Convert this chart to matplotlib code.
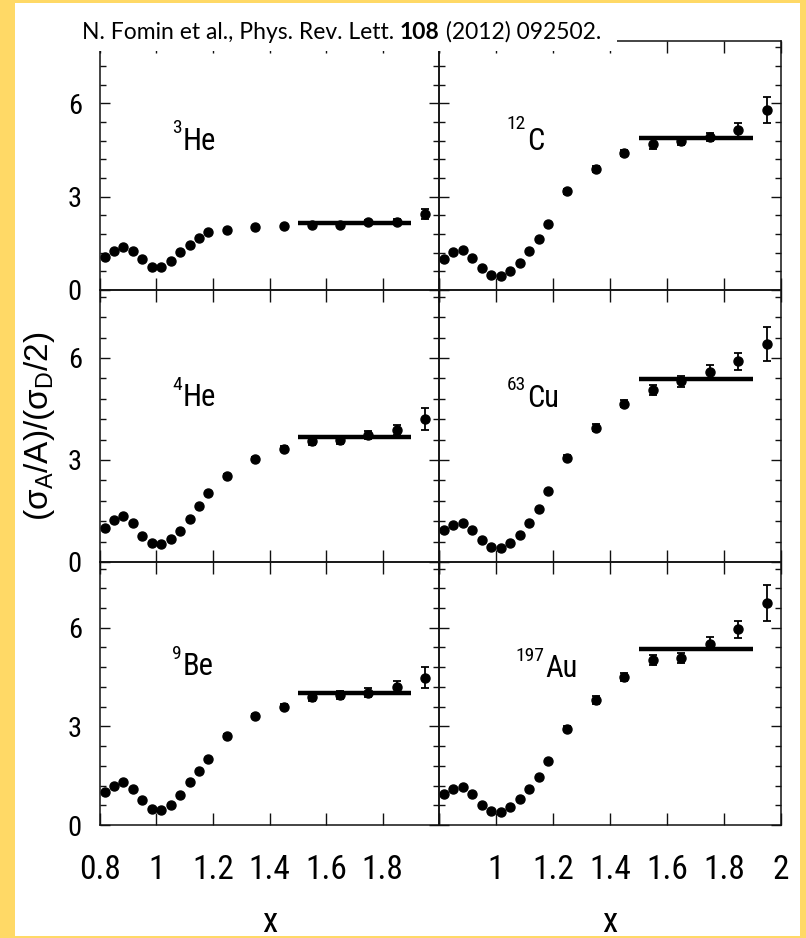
import matplotlib
matplotlib.use("Agg")
import matplotlib.pyplot as plt
from matplotlib.patches import Rectangle
from matplotlib.ticker import FixedLocator, FixedFormatter, NullFormatter
import matplotlib.font_manager as fm

# ---------------- data ----------------
x_vals = [0.817, 0.85, 0.883, 0.917, 0.95, 0.983, 1.017, 1.05, 1.083, 1.117,
          1.15, 1.183, 1.25, 1.35, 1.45, 1.55, 1.65, 1.75, 1.85, 1.95]

he3 = [1.05, 1.26, 1.37, 1.26, 0.99, 0.75, 0.75, 0.94, 1.22, 1.45,
       1.68, 1.85, 1.93, 2.02, 2.06, 2.09, 2.09, 2.18, 2.20, 2.44]
he3_err = [0.02]*12 + [0.03, 0.03, 0.04, 0.05, 0.05, 0.06, 0.08, 0.15]

he4 = [1.01, 1.24, 1.34, 1.14, 0.77, 0.55, 0.53, 0.67, 0.92, 1.26,
       1.65, 2.03, 2.54, 3.03, 3.33, 3.55, 3.58, 3.73, 3.89, 4.21]
he4_err = [0.02]*12 + [0.05, 0.06, 0.07, 0.10, 0.10, 0.12, 0.15, 0.32]

be9 = [1.00, 1.20, 1.30, 1.10, 0.75, 0.50, 0.45, 0.60, 0.90, 1.30,
       1.65, 2.00, 2.72, 3.33, 3.60, 3.88, 3.95, 4.02, 4.20, 4.48]
be9_err = [0.02]*12 + [0.05, 0.06, 0.07, 0.10, 0.12, 0.14, 0.18, 0.32]

c12 = [1.01, 1.21, 1.29, 1.03, 0.70, 0.48, 0.45, 0.62, 0.86, 1.24,
       1.63, 2.11, 3.18, 3.88, 4.40, 4.69, 4.80, 4.93, 5.14, 5.77]
c12_err = [0.02]*12 + [0.08, 0.10, 0.10, 0.16, 0.13, 0.13, 0.24, 0.42]

cu63 = [0.95, 1.10, 1.15, 0.95, 0.65, 0.45, 0.42, 0.55, 0.80, 1.15,
        1.55, 2.10, 3.07, 3.95, 4.66, 5.07, 5.31, 5.60, 5.90, 6.40]
cu63_err = [0.02]*12 + [0.08, 0.10, 0.10, 0.15, 0.15, 0.18, 0.25, 0.50]

au197 = [0.95, 1.10, 1.15, 0.95, 0.62, 0.42, 0.40, 0.54, 0.80, 1.10,
         1.45, 1.95, 2.93, 3.79, 4.50, 5.02, 5.09, 5.52, 5.95, 6.76]
au197_err = [0.02]*12 + [0.08, 0.12, 0.12, 0.16, 0.15, 0.20, 0.25, 0.55]

plateau_x = [1.5, 1.9]
plateau = {"3He": 2.14, "4He": 3.67, "9Be": 4.03, "12C": 4.88, "63Cu": 5.37, "197Au": 5.35}

nuclei_sup = ["3", "12", "4", "63", "9", "197"]
nuclei_name = ["He", "C", "He", "Cu", "Be", "Au"]
keys = ["3He", "12C", "4He", "63Cu", "9Be", "197Au"]
series = [he3, c12, he4, cu63, be9, au197]
errors = [he3_err, c12_err, he4_err, cu63_err, be9_err, au197_err]
label_x = [1.092, 1.108, 1.092, 1.109, 1.092, 1.172]
label_y = [4.5, 4.5, 4.58, 4.57, 4.55, 4.49]

xticks = [0.8, 1.0, 1.2, 1.4, 1.6, 1.8, 2.0]
xlabels_left = ["0.8", "1", "1.2", "1.4", "1.6", "1.8", ""]
xlabels_right = ["", "1", "1.2", "1.4", "1.6", "1.8", "2"]
yticks_major = [0, 3, 6]
ylabels = ["0", "3", "6"]
yticks_minor = [0.6, 1.2, 1.8, 2.4, 3.6, 4.2, 4.8, 5.4, 6.6, 7.2, 7.8]
citation_a = "N. Fomin et al., Phys. Rev. Lett. "
citation_b = "108"
citation_c = " (2012) 092502."

# ---------------- fonts ----------------
avail = {f.name for f in fm.fontManager.ttflist}
narrow = "Roboto Condensed" if "Roboto Condensed" in avail else "Liberation Sans"
cite_font = "Lato" if "Lato" in avail else "DejaVu Sans"

W, H = 806, 938
fig = plt.figure(figsize=(W / 100, H / 100), dpi=100)
fig.patch.set_facecolor("#FFD966")
fig.add_artist(Rectangle((15 / W, 1 - 936 / H), (800 - 15) / W, (936 - 3) / H,
                         transform=fig.transFigure, facecolor="white",
                         edgecolor="none", zorder=-5))

cols = [(100, 439), (439, 781)]
rows = [(41, 290), (290, 562), (562, 825)]


def frac(x0, x1, y0, y1):
    return [x0 / W, 1 - y1 / H, (x1 - x0) / W, (y1 - y0) / H]


idx = 0
for r, (ry0, ry1) in enumerate(rows):
    for c, (cx0, cx1) in enumerate(cols):
        ax = fig.add_axes(frac(cx0, cx1, ry0, ry1))
        ax.set_facecolor("none")
        y = series[idx]
        e = errors[idx]
        ax.errorbar(x_vals, y, yerr=e, fmt="o", color="black", ms=6.5,
                    elinewidth=1.3, capsize=3.2, capthick=1.3)
        ax.plot(plateau_x, [plateau[keys[idx]]] * 2, color="black", lw=3.2,
                solid_capstyle="butt")
        ax.set_xlim(0.8, 2.0)
        ax.set_ylim(0, 8)
        for sp in ax.spines.values():
            sp.set_linewidth(1.1)
            sp.set_color("#111111")
        ax.xaxis.set_major_locator(FixedLocator(xticks))
        ax.yaxis.set_major_locator(FixedLocator(yticks_major))
        ax.yaxis.set_minor_locator(FixedLocator(yticks_minor))
        ax.tick_params(axis="x", which="major", direction="in", length=8.6,
                       width=1.0, top=True, bottom=True, pad=21,
                       labelsize=24, color="#111111")
        ax.tick_params(axis="y", which="major", direction="in", length=7,
                       width=1.0, left=True, right=True, pad=13,
                       labelsize=20.5, color="#111111")
        ax.tick_params(axis="y", which="minor", direction="in", length=4.3,
                       width=1.0, left=True, right=True, color="#111111")
        if r == 2:
            ax.xaxis.set_major_formatter(FixedFormatter(xlabels_left if c == 0 else xlabels_right))
        else:
            ax.xaxis.set_major_formatter(NullFormatter())
        if c == 0:
            ax.yaxis.set_major_formatter(FixedFormatter(ylabels))
        else:
            ax.yaxis.set_major_formatter(NullFormatter())
        for lab in ax.get_xticklabels() + ax.get_yticklabels():
            lab.set_fontfamily(narrow)
        ax.text(label_x[idx], label_y[idx], nuclei_name[idx], fontsize=22,
                family=narrow, ha="left", va="baseline")
        ax.annotate(nuclei_sup[idx], xy=(label_x[idx], label_y[idx]),
                    xycoords="data", xytext=(-0.5, 12 if idx != 1 else 15),
                    textcoords="offset points", ha="right", va="baseline",
                    fontsize=14, family=narrow)
        idx += 1

for (cx0, cx1) in cols:
    fig.text(((cx0 + cx1) / 2) / W, 1 - 922 / H, "x", fontsize=25,
             family=narrow, ha="center", va="center")

fig.text(40 / W, 1 - 426 / H, r"$\mathregular{(σ_A/A)/(σ_D/2)}$", rotation=90,
         fontsize=24, family="Liberation Sans", ha="center", va="center")

fig.add_artist(Rectangle((60 / W, 1 - 51 / H), (617 - 60) / W, (51 - 3) / H,
                         transform=fig.transFigure, facecolor="white",
                         edgecolor="none", zorder=5))
t1 = fig.text(82 / W, 1 - 39 / H, citation_a, fontsize=16.5, family=cite_font,
              ha="left", va="baseline", zorder=6)
fig.canvas.draw()
r = fig.canvas.get_renderer()
bb = t1.get_window_extent(r)
t2 = fig.text(bb.x1 / W, 1 - 39 / H, citation_b, fontsize=16.5, family=cite_font,
              weight="bold", ha="left", va="baseline", zorder=6)
bb2 = t2.get_window_extent(r)
fig.text(bb2.x1 / W, 1 - 39 / H, citation_c, fontsize=16.5, family=cite_font,
         ha="left", va="baseline", zorder=6)

fig.savefig("out.png", dpi=100, facecolor=fig.get_facecolor())
